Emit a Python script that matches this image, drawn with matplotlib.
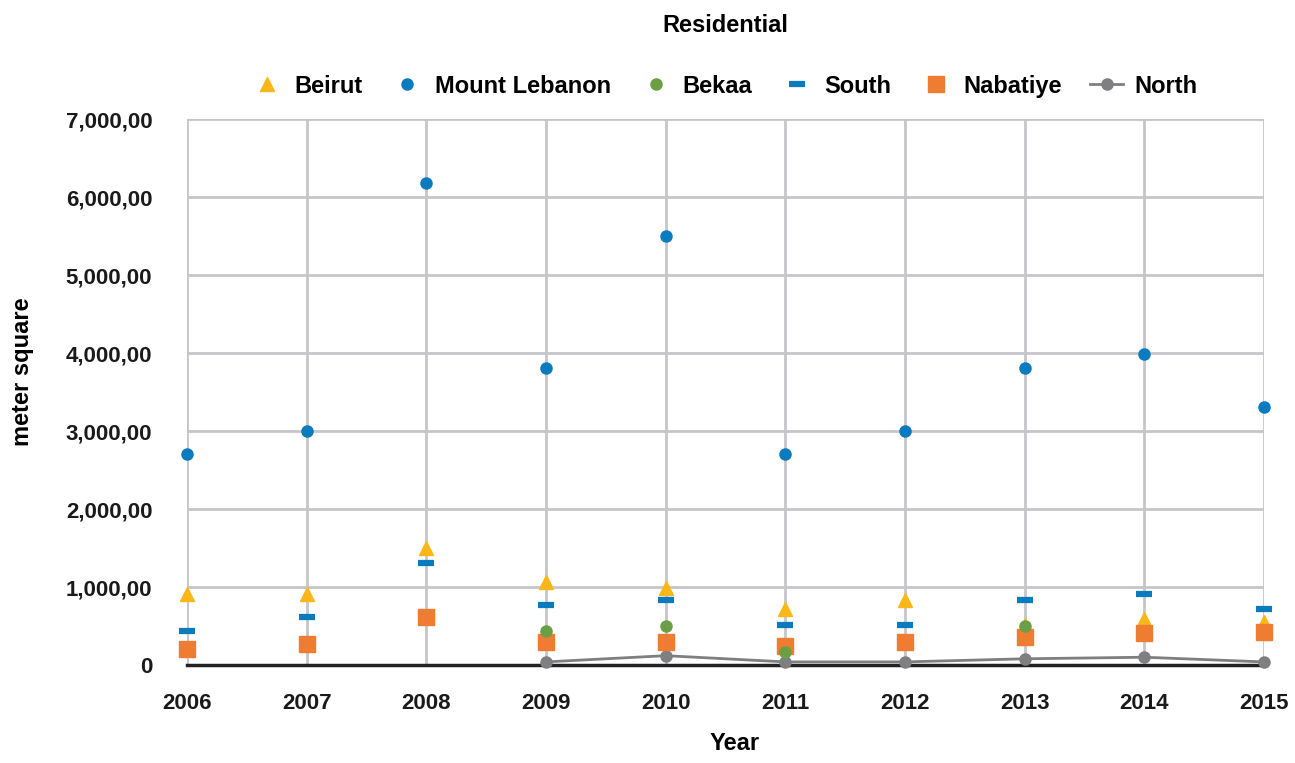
import matplotlib
matplotlib.use("Agg")
import matplotlib.pyplot as plt
import numpy as np
from matplotlib.ticker import FuncFormatter, MultipleLocator

plt.rcParams["font.family"] = ["Liberation Sans", "DejaVu Sans"]
plt.rcParams["font.weight"] = "bold"

years = [2006, 2007, 2008, 2009, 2010, 2011, 2012, 2013, 2014, 2015]
nan = np.nan
beirut = [910, 910, 1500, 1060, 990, 720, 830, 510, 590, 555]
mount_lebanon = [2700, 3000, 6180, 3810, 5500, 2700, 3000, 3810, 3990, 3310]
bekaa = [nan, nan, nan, 430, 500, 170, nan, 500, nan, nan]
south = [440, 620, 1310, 770, 830, 510, 510, 830, 915, 720]
nabatiye = [210, 265, 610, 300, 300, 250, 300, 355, 405, 420]
north = [nan, nan, nan, 40, 120, 40, 40, 80, 100, 40]

fig = plt.figure(figsize=(12.95, 7.63), dpi=100)
ax = fig.add_axes([0.1444, 0.1284, 0.8317, 0.7156])

ax.plot(years, north, color="#7f7f82", lw=2, marker="o", ms=8, label="North", zorder=3, clip_on=False)
ax.plot(years, beirut, ls="none", marker="^", ms=10, color="#fbb61a", label="Beirut", zorder=4, clip_on=False)
ax.plot(years, mount_lebanon, ls="none", marker="o", ms=8, color="#0a7bbf", label="Mount Lebanon", zorder=4, clip_on=False)
ax.plot(years, south, ls="none", marker="_", ms=11, mew=4.5, color="#0a7bbf", label="South", zorder=4, clip_on=False)
ax.plot(years, nabatiye, ls="none", marker="s", ms=11, color="#ee7d31", label="Nabatiye", zorder=4, clip_on=False)
ax.plot(years, bekaa, ls="none", marker="o", ms=8, color="#6a9f46", label="Bekaa", zorder=5, clip_on=False)

ax.set_xlim(2006, 2015)
ax.set_ylim(0, 7000)
ax.set_xticks(years)
ax.yaxis.set_major_locator(MultipleLocator(1000))
ax.yaxis.set_major_formatter(FuncFormatter(lambda v, p: "0" if v == 0 else f"{v:,.0f},00"))
ax.grid(True, color="#c6c6ca", lw=2)
ax.set_axisbelow(True)
for s in ["top", "right", "left"]:
    ax.spines[s].set_visible(False)
ax.spines["bottom"].set_color("#222222")
ax.spines["bottom"].set_linewidth(2.5)
ax.spines["bottom"].set_zorder(2)
ax.tick_params(length=0, labelsize=16)
ax.tick_params(axis="x", pad=20)
ax.tick_params(axis="y", pad=25)
for lab in ax.get_xticklabels() + ax.get_yticklabels():
    lab.set_fontweight("bold")
    lab.set_color("#1a1a1a")

fig.text(0.567, 0.0105, "Year", fontsize=17, fontweight="bold", ha="center", va="bottom")
fig.text(0.017, 0.513, "meter square", fontsize=17, fontweight="bold", rotation=90, ha="center", va="center")
fig.text(0.56, 0.967, "Residential", fontsize=17, fontweight="bold", ha="center", va="center")

h, l = ax.get_legend_handles_labels()
order = ["Beirut", "Mount Lebanon", "Bekaa", "South", "Nabatiye", "North"]
hd = dict(zip(l, h))
fig.legend([hd[k] for k in order], order, loc="center", bbox_to_anchor=(0.559, 0.887),
           ncol=6, frameon=False, fontsize=17, columnspacing=1.2, handletextpad=0.45,
           handlelength=1.4)

fig.savefig("out.png", dpi=100)
